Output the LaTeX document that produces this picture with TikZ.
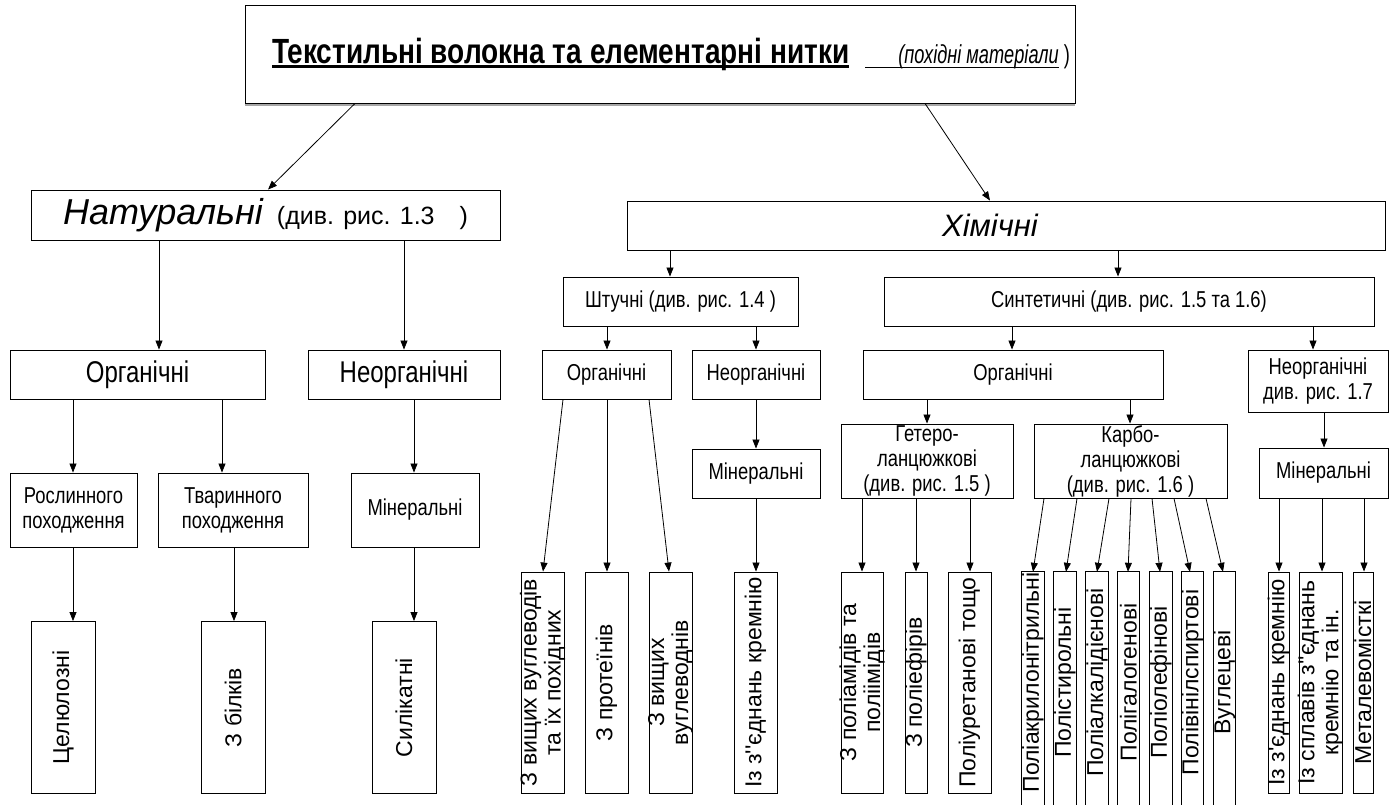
\documentclass[tikz,border=0pt]{standalone}
\usepackage{fontspec}
\setmainfont{Liberation Sans}
\newfontfamily\narrowfont[FakeStretch=0.8]{Liberation Sans}
\newfontfamily\condfont[FakeStretch=0.7]{Liberation Sans}
\usetikzlibrary{arrows.meta}
\newcommand\ulbox[2]{\setbox0=\hbox{#2}\rlap{\rule[-5pt]{\wd0}{#1}}\box0}
\tikzset{
	box/.style={draw, inner sep=0pt, line width=0.9pt, align=center},
	arr/.style={-{Triangle[length=9pt,width=7pt]}, line width=0.8pt},
	big/.style={font=\narrowfont\fontsize{30}{33}\selectfont},
	mid/.style={font=\narrowfont\fontsize{23}{25}\selectfont},
	vbox/.style={box, minimum height=221},
	cbox/.style={inner sep=0pt, minimum width=22, minimum height=221},
	vtxt/.style={rotate=90, align=center, inner sep=0pt, font=\fontsize{23}{24}\selectfont}
}
\begin{document}
\begin{tikzpicture}[x=1pt,y=-1pt]
		\path[fill=white, use as bounding box] (0,0) rectangle (1389,805);
		% top
		\node[box, minimum width=830, minimum height=98] (title) at (660,54)
			{\hspace*{22pt}{\narrowfont\fontsize{35}{38}\selectfont\ulbox{3pt}{\bfseries Текстильні волокна та елементарні нитки}}\hspace{16pt}{\condfont\fontsize{26}{30}\selectfont\ulbox{1pt}{\hspace{33pt}\itshape(похідні матеріали}\ )}};
		\draw[gray!70, line width=1.5pt] ([yshift=-1.5pt]title.south west) -- ([yshift=-1.5pt]title.south east);
		\node[box, minimum width=469, minimum height=50] (nat) at (265.5,215)
			{{\fontsize{36}{39}\selectfont\itshape Натуральні}\hspace{14pt}{\fontsize{25}{28}\selectfont(див. рис. 1.3\hspace{25pt})}};
		\node[box, minimum width=758, minimum height=49, font=\fontsize{31}{34}\selectfont\itshape] (chem) at (1006,225.5) {\hspace*{-32pt}Хімічні};
		\draw[arr] (355,0 |- title.south) -- (268,0 |- nat.north);
		\draw[arr] (925,0 |- title.south) -- (990,0 |- chem.north);
		% natural
		\node[box, big, minimum width=255, minimum height=49] (orgN) at (137.5,374.5) {Органічні};
		\node[box, big, minimum width=192, minimum height=49] (neorgN) at (404,374.5) {Неорганічні};
		\node[box, mid, minimum width=127, minimum height=74] (rosl) at (73.5,510) {Рослинного\\походження};
		\node[box, mid, minimum width=150, minimum height=74] (tvar) at (233,510) {Тваринного\\походження};
		\node[box, mid, minimum width=128, minimum height=74] (minN) at (415,510) {Мінеральні};
		\node[box, minimum width=64, minimum height=172] (cel) at (63,707.5) {};
		\node[vtxt] (cel-t) at (cel) {Целюлозні};
		\node[box, minimum width=64, minimum height=172] (bilk) at (233,707.5) {};
		\node[vtxt] (bilk-t) at (bilk) {З білків};
		\node[box, minimum width=64, minimum height=172] (silik) at (404,707.5) {};
		\node[vtxt] (silik-t) at (silik) {Силікатні};
		\draw[arr] (159,0 |- nat.south) -- (159,0 |- orgN.north);
		\draw[arr] (404,0 |- nat.south) -- (404,0 |- neorgN.north);
		\draw[arr] (73,0 |- orgN.south) -- (73,0 |- rosl.north);
		\draw[arr] (222,0 |- orgN.south) -- (222,0 |- tvar.north);
		\draw[arr] (414,0 |- neorgN.south) -- (414,0 |- minN.north);
		\draw[arr] (73,0 |- rosl.south) -- (73,0 |- cel.north);
		\draw[arr] (234,0 |- tvar.south) -- (234,0 |- bilk.north);
		\draw[arr] (414,0 |- minN.south) -- (414,0 |- silik.north);
		% chemical
		\node[box, mid, minimum width=235, minimum height=49] (shtuch) at (680.5,301.5) {Штучні (див. рис. 1.4 )};
		\node[box, mid, minimum width=490, minimum height=49] (sint) at (1129,301.5) {Синтетичні (див. рис. 1.5 та 1.6)};
		\node[box, mid, minimum width=129, minimum height=49] (orgA) at (606.5,374.5) {Органічні};
		\node[box, mid, minimum width=128, minimum height=49] (neorgA) at (756,374.5) {Неорганічні};
		\node[box, mid, minimum width=128, minimum height=49] (minA) at (756,473.5) {Мінеральні};
		\node[box, mid, minimum width=300, minimum height=49] (orgS) at (1013,374.5) {Органічні};
		\node[box, mid, minimum width=140, minimum height=62] (neorgS) at (1318,381) {Неорганічні\\див. рис. 1.7};
		\node[box, mid, minimum width=172, minimum height=74] (hetero) at (927,461) {Гетеро-\\ланцюжкові\\(див. рис. 1.5 )};
		\node[box, mid, minimum width=193, minimum height=74] (karbo) at (1130.5,461) {Карбо-\\ланцюжкові\\(див. рис. 1.6 )};
		\node[box, mid, minimum width=129, minimum height=50] (minS) at (1323.5,473) {Мінеральні};
		\draw[arr] (670,0 |- chem.south) -- (670,0 |- shtuch.north);
		\draw[arr] (1118,0 |- chem.south) -- (1118,0 |- sint.north);
		\draw[arr] (607,0 |- shtuch.south) -- (607,0 |- orgA.north);
		\draw[arr] (756,0 |- shtuch.south) -- (756,0 |- neorgA.north);
		\draw[arr] (756,0 |- neorgA.south) -- (756,0 |- minA.north);
		\draw[arr] (1012,0 |- sint.south) -- (1012,0 |- orgS.north);
		\draw[arr] (1313,0 |- sint.south) -- (1313,0 |- neorgS.north);
		\draw[arr] (927,0 |- orgS.south) -- (927,0 |- hetero.north);
		\draw[arr] (1130,0 |- orgS.south) -- (1130,0 |- karbo.north);
		\draw[arr] (1324,0 |- neorgS.south) -- (1324,0 |- minS.north);
		% bottom row
		\foreach \n/\x/\w/\t in {vugl/542.5/43/{З вищих вуглеводів\\та їх похідних}, prot/606.5/43/{З протеїнів},
			vuglv/670.5/43/{З вищих\\вуглеводнів}, kremA/755.5/43/{Із з\textquotesingle\textquotesingle єднань кремнію},
			poliam/862/42/{З поліамідів та\\поліімідів}, polief/916/22/{З поліефірів}, poliur/969.5/43/{Поліуретанові тощо},
			kremS/1278.5/21/{Із з\textquotesingle єднань кремнію}, splav/1320.5/43/{Із сплавів з\textquotesingle\textquotesingle єднань\\кремнію та ін.},
			metal/1363/20/{Металевомісткі}}
		{
			\node[vbox, minimum width=\w] (\n) at (\x,682.5) {};
			\node[vtxt] (\n-t) at (\n) {\t};
		}
		\foreach \n/\x/\t in {pakr/1033/Поліакрилонітрильні, pstir/1065/Полістирольні, palk/1097/Поліалкалідієнові,
			pgal/1128.5/Полігалогенові, polef/1161/Поліолефінові, pvin/1192.5/Полівінілспиртові, vugc/1224.5/Вуглецеві}
		{
			\node[cbox] (\n) at (\x,682.5) {};
			\node[vtxt] (\n-t) at (\n) {\t};
			\draw[line width=0.9pt] ([yshift=-20pt]\n.south west) -- (\n.north west) -- (\n.north east) -- ([yshift=-20pt]\n.south east);
		}
		\draw[arr] (563,0 |- orgA.south) -- (543,0 |- vugl.north);
		\draw[arr] (607,0 |- orgA.south) -- (607,0 |- prot.north);
		\draw[arr] (649,0 |- orgA.south) -- (669,0 |- vuglv.north);
		\draw[arr] (756,0 |- minA.south) -- (756,0 |- kremA.north);
		\draw[arr] (862,0 |- hetero.south) -- (862,0 |- poliam.north);
		\draw[arr] (916,0 |- hetero.south) -- (916,0 |- polief.north);
		\draw[arr] (970,0 |- hetero.south) -- (970,0 |- poliur.north);
		\foreach \a/\b/\n in {1044/1033/pakr, 1077/1066/pstir, 1109/1097/palk, 1131/1128/pgal, 1152/1160/polef, 1174/1190/pvin, 1206/1223/vugc}
			\draw[arr] (\a,0 |- karbo.south) -- (\b,0 |- \n.north);
		\draw[arr] (1279,0 |- minS.south) -- (1279,0 |- kremS.north);
		\draw[arr] (1322,0 |- minS.south) -- (1322,0 |- splav.north);
		\draw[arr] (1364,0 |- minS.south) -- (1364,0 |- metal.north);
\end{tikzpicture}
\end{document}
